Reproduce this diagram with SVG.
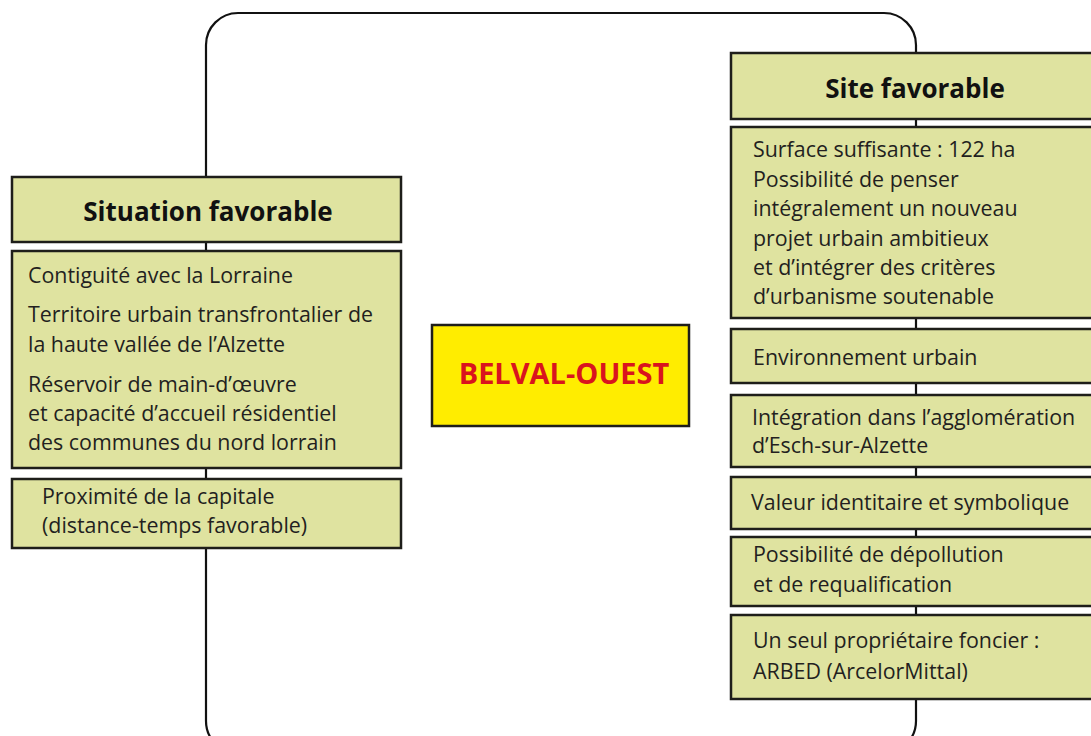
<svg xmlns="http://www.w3.org/2000/svg" width="1091" height="736" viewBox="0 0 1091 736">
<style>
.box{fill:#dfe3a0;stroke:#1e1e1a;stroke-width:2.5}
.conn{fill:none;stroke:#111;stroke-width:2.2}
.t{font-family:"Open Sans","Liberation Sans",sans-serif;font-size:21.4px;fill:#231f20}
.h{font-family:"Open Sans","Liberation Sans",sans-serif;font-size:26px;font-weight:bold;fill:#111;text-anchor:middle}
</style>
<rect width="1091" height="736" fill="#fff"/>
<g id="connectors">
<rect class="conn" x="206" y="13" width="710" height="740" rx="32" ry="32"/>
</g>
<g id="situation-header">
<rect class="box" x="12" y="177" width="389" height="65"/>
<text class="h" x="208" y="221">Situation favorable</text>
</g>
<g id="situation-content">
<rect class="box" x="12" y="251" width="389" height="217"/>
<text class="t" x="28" y="283">Contiguité avec la Lorraine</text>
<text class="t" x="28" y="322">Territoire urbain transfrontalier de</text>
<text class="t" x="28" y="352">la haute vallée de l’Alzette</text>
<text class="t" x="28" y="392">Réservoir de main-d’œuvre</text>
<text class="t" x="28" y="421">et capacité d’accueil résidentiel</text>
<text class="t" x="28" y="450">des communes du nord lorrain</text>
</g>
<g id="proximite">
<rect class="box" x="12" y="479" width="389" height="69"/>
<text class="t" x="42" y="504">Proximité de la capitale</text>
<text class="t" x="42" y="533">(distance-temps favorable)</text>
</g>
<g id="belval">
<rect x="432" y="325" width="257" height="101" fill="#ffed00" stroke="#1e1e1a" stroke-width="2.5"/>
<text x="564" y="384" font-family="Open Sans, Liberation Sans, sans-serif" font-size="29" font-weight="bold" fill="#d9141e" text-anchor="middle">BELVAL-OUEST</text>
</g>
<g id="site-header">
<rect class="box" x="731" y="53" width="364" height="66"/>
<text class="h" x="915" y="98">Site favorable</text>
</g>
<g id="site-surface">
<rect class="box" x="731" y="127" width="364" height="191"/>
<text class="t" x="753" y="157">Surface suffisante : 122 ha</text>
<text class="t" x="753" y="187">Possibilité de penser</text>
<text class="t" x="753" y="216">intégralement un nouveau</text>
<text class="t" x="753" y="246">projet urbain ambitieux</text>
<text class="t" x="753" y="275">et d’intégrer des critères</text>
<text class="t" x="753" y="304">d’urbanisme soutenable</text>
</g>
<g id="site-environnement">
<rect class="box" x="731" y="329" width="364" height="54"/>
<text class="t" x="753" y="365">Environnement urbain</text>
</g>
<g id="site-integration">
<rect class="box" x="731" y="395" width="364" height="72"/>
<text class="t" x="752" y="425">Intégration dans l’agglomération</text>
<text class="t" x="752" y="453">d’Esch-sur-Alzette</text>
</g>
<g id="site-valeur">
<rect class="box" x="731" y="477" width="364" height="52"/>
<text class="t" x="751" y="510">Valeur identitaire et symbolique</text>
</g>
<g id="site-depollution">
<rect class="box" x="731" y="537" width="364" height="69"/>
<text class="t" x="753" y="562">Possibilité de dépollution</text>
<text class="t" x="753" y="592">et de requalification</text>
</g>
<g id="site-proprietaire">
<rect class="box" x="731" y="615" width="364" height="84"/>
<text class="t" x="753" y="648">Un seul propriétaire foncier :</text>
<text class="t" x="753" y="679">ARBED (ArcelorMittal)</text>
</g>
</svg>
